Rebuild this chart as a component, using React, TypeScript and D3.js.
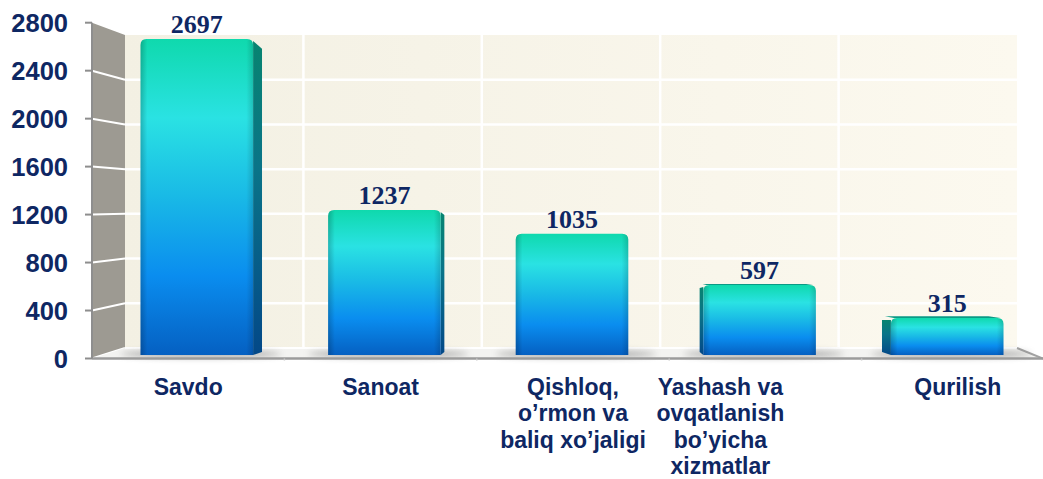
import React from 'react';
import * as d3 from 'd3';

// values
const categories = ['Savdo', 'Sanoat', 'Qishloq', 'Yashash', 'Qurilish'];
const categoryLines = [
  ['Savdo'],
  ['Sanoat'],
  ['Qishloq,', 'o’rmon va', 'baliq xo’jaligi'],
  ['Yashash va', 'ovqatlanish', 'bo’yicha', 'xizmatlar'],
  ['Qurilish'],
];
const values = [2697, 1237, 1035, 597, 315];
const yTicks = [0, 400, 800, 1200, 1600, 2000, 2400, 2800];

const width = 1043;
const height = 479;
const navy = '#0e2763';

// the chart is a fake 3d box: a front plane, a back wall and the bars in between
const frontLeft = 92;
const frontRight = 1043;
const backLeft = 125;
const backRight = 1017;

const yFront = d3.scaleLinear().domain([0, 2800]).range([358.5, 22.7]);
const yBack = d3.scaleLinear().domain([0, 2800]).range([348, 35]);
const yBar = d3.scaleLinear().domain([0, 2800]).range([355, 355 - 2800 * 0.1172]);

const xBar = d3.scaleBand().domain(categories).range([103, 1041]).paddingInner(0.4).paddingOuter(0.2);
const xBack = d3.scaleBand().domain(categories).range([backLeft, backRight]);
const xFront = d3.scaleBand().domain(categories).range([frontLeft, 1054]);

// vanishing point for the bar depth
const vx = 572;
const vy = 250;
const depth = 0.972;
const proj = (x: number, y: number): [number, number] => [vx + (x - vx) * depth, vy + (y - vy) * depth];

const poly = (pts: [number, number][]) => pts.map(p => p.join(',')).join(' ');

const frontPath = (x0: number, x1: number, yt: number, yb: number, r: number) => {
  const p = d3.path();
  p.moveTo(x0, yb);
  p.lineTo(x0, yt + r);
  p.quadraticCurveTo(x0, yt, x0 + r, yt);
  p.lineTo(x1 - r, yt);
  p.quadraticCurveTo(x1, yt, x1, yt + r);
  p.lineTo(x1, yb);
  p.closePath();
  return p.toString();
};

// the third and fourth labels were squeezed together in the original
const labelNudge = (i: number) => (i === 3 ? -45 : 0);

const App = () => {
  const bw = xBar.bandwidth();
  const gridTicks = yTicks.filter(t => t > 0 && t < 2800);

  return (
    <svg width={width} height={height} style={{ position: 'absolute', left: 0, top: 0, display: 'block' }}>
      <defs>
        <linearGradient id="wall" x1="0" x2="1" y1="0" y2="0">
          <stop offset="0" stopColor="#f3f0e3" />
          <stop offset="1" stopColor="#fcf9ef" />
        </linearGradient>
        <linearGradient id="barFront" x1="0" x2="0" y1="0" y2="1">
          <stop offset="0" stopColor="#0fd9ad" />
          <stop offset="0.25" stopColor="#2ae2e3" />
          <stop offset="0.5" stopColor="#19b9e6" />
          <stop offset="0.75" stopColor="#0a8def" />
          <stop offset="1" stopColor="#0560c2" />
        </linearGradient>
        <linearGradient id="barEdge" x1="0" x2="1" y1="0" y2="0">
          <stop offset="0" stopColor="#000" stopOpacity="0.2" />
          <stop offset="0.06" stopColor="#000" stopOpacity="0" />
          <stop offset="0.94" stopColor="#000" stopOpacity="0" />
          <stop offset="1" stopColor="#000" stopOpacity="0.15" />
        </linearGradient>
        <linearGradient id="barSide" x1="0" x2="0" y1="0" y2="1">
          <stop offset="0" stopColor="#078470" />
          <stop offset="0.4" stopColor="#0a7488" />
          <stop offset="1" stopColor="#034888" />
        </linearGradient>
        <filter id="blur" x="-50%" y="-200%" width="200%" height="500%">
          <feGaussianBlur stdDeviation="3" />
        </filter>
      </defs>

      {/* back wall */}
      <rect x={backLeft} y={yBack(2800)} width={backRight - backLeft} height={yBack(0) - yBack(2800)} fill="url(#wall)" />
      {gridTicks.map(t => (
        <line key={'h' + t} x1={backLeft} x2={backRight} y1={yBack(t)} y2={yBack(t)} stroke="#fff" strokeWidth={2.5} />
      ))}
      {categories.slice(1).map(c => (
        <line key={'v' + c} x1={xBack(c)} x2={xBack(c)} y1={yBack(2800)} y2={yBack(0)} stroke="#fff" strokeWidth={2.5} />
      ))}

      {/* left wall */}
      <polygon
        points={poly([[frontLeft, yFront(2800)], [backLeft, yBack(2800)], [backLeft, yBack(0)], [frontLeft, yFront(0)]])}
        fill="#9d9a92"
      />
      {yTicks.filter(t => t < 2800).map(t => (
        <line key={'l' + t} x1={frontLeft} x2={backLeft} y1={yFront(t)} y2={yBack(t)} stroke="#fff" strokeWidth={2} />
      ))}

      {/* floor */}
      <polygon
        points={poly([[backLeft, yBack(0)], [backRight, yBack(0)], [frontRight, yFront(0)], [frontLeft, yFront(0)]])}
        fill="#f3f3f1"
      />
      <line x1={backLeft} x2={backRight} y1={yBack(0)} y2={yBack(0)} stroke="#fff" strokeWidth={2} />
      <line x1={backRight} x2={frontRight} y1={yBack(0)} y2={yFront(0)} stroke="#a3a3a3" strokeWidth={2} />

      {/* bar shadows */}
      {categories.map(c => (
        <ellipse
          key={'s' + c}
          cx={(xBar(c) as number) + bw / 2 + 4}
          cy={yBar(0) - 1}
          rx={bw / 2 + 24}
          ry={3.5}
          fill="#6f6f6f"
          opacity={0.55}
          filter="url(#blur)"
        />
      ))}

      {/* bars */}
      {categories.map((c, i) => {
        const x0 = xBar(c) as number;
        const x1 = x0 + bw;
        const yt = yBar(values[i]);
        const yb = yBar(0);
        let side: [number, number][] | null = null;
        if (x1 < vx) side = [[x1, yt + 2], proj(x1, yt + 4), proj(x1, yb), [x1, yb]];
        else if (x0 > vx) side = [[x0, yt + 2], proj(x0, yt + 4), proj(x0, yb), [x0, yb]];
        const top: [number, number][] | null =
          yt > vy ? [[x0 + 3, yt], [x1 - 3, yt], proj(x1 - 3, yt), proj(x0 + 3, yt)] : null;
        return (
          <g key={'b' + c}>
            {side && <polygon points={poly(side)} fill="url(#barSide)" />}
            {top && <polygon points={poly(top)} fill="#0a9a86" />}
            <path d={frontPath(x0, x1, yt, yb, 6)} fill="url(#barFront)" />
            <path d={frontPath(x0, x1, yt, yb, 6)} fill="url(#barEdge)" />
          </g>
        );
      })}

      {/* front floor edge */}
      <line x1={frontLeft} x2={frontRight} y1={yFront(0)} y2={yFront(0)} stroke="#9b9b9b" strokeWidth={2.5} />
      {categories.slice(1).map(c => (
        <line key={'ft' + c} x1={xFront(c)} x2={xFront(c)} y1={yFront(0)} y2={yFront(0) + 2} stroke="#c8c8c8" strokeWidth={1.5} />
      ))}

      {/* y axis */}
      <line x1={frontLeft} x2={frontLeft} y1={yFront(2800)} y2={yFront(0)} stroke="#8e8e8e" strokeWidth={2} />
      {yTicks.map(t => (
        <g key={'t' + t}>
          <line x1={frontLeft - 7} x2={frontLeft} y1={yFront(t)} y2={yFront(t)} stroke="#8e8e8e" strokeWidth={2} />
          <text
            x={68}
            y={yFront(t)}
            dy="0.36em"
            textAnchor="end"
            fontFamily="'Liberation Sans', Arial, sans-serif"
            fontWeight="bold"
            fontSize={25.5}
            fill={navy}
          >
            {t}
          </text>
        </g>
      ))}

      {/* value labels */}
      {categories.map((c, i) => (
        <text
          key={'v' + c}
          x={(xBar(c) as number) + bw / 2}
          y={yBar(values[i]) - 6}
          textAnchor="middle"
          fontFamily="'Liberation Serif', 'Times New Roman', serif"
          fontWeight="bold"
          fontSize={26}
          fill={navy}
        >
          {values[i]}
        </text>
      ))}

      {/* category labels */}
      {categories.map((c, i) => (
        <text
          key={'c' + c}
          x={(xFront(c) as number) + xFront.bandwidth() / 2 + labelNudge(i)}
          y={395}
          textAnchor="middle"
          fontFamily="'Liberation Sans', Arial, sans-serif"
          fontWeight="bold"
          fontSize={23}
          fill={navy}
        >
          {categoryLines[i].map((line, j) => (
            <tspan key={j} x={(xFront(c) as number) + xFront.bandwidth() / 2 + labelNudge(i)} dy={j === 0 ? 0 : 26.3}>
              {line}
            </tspan>
          ))}
        </text>
      ))}
    </svg>
  );
};

export default App;
